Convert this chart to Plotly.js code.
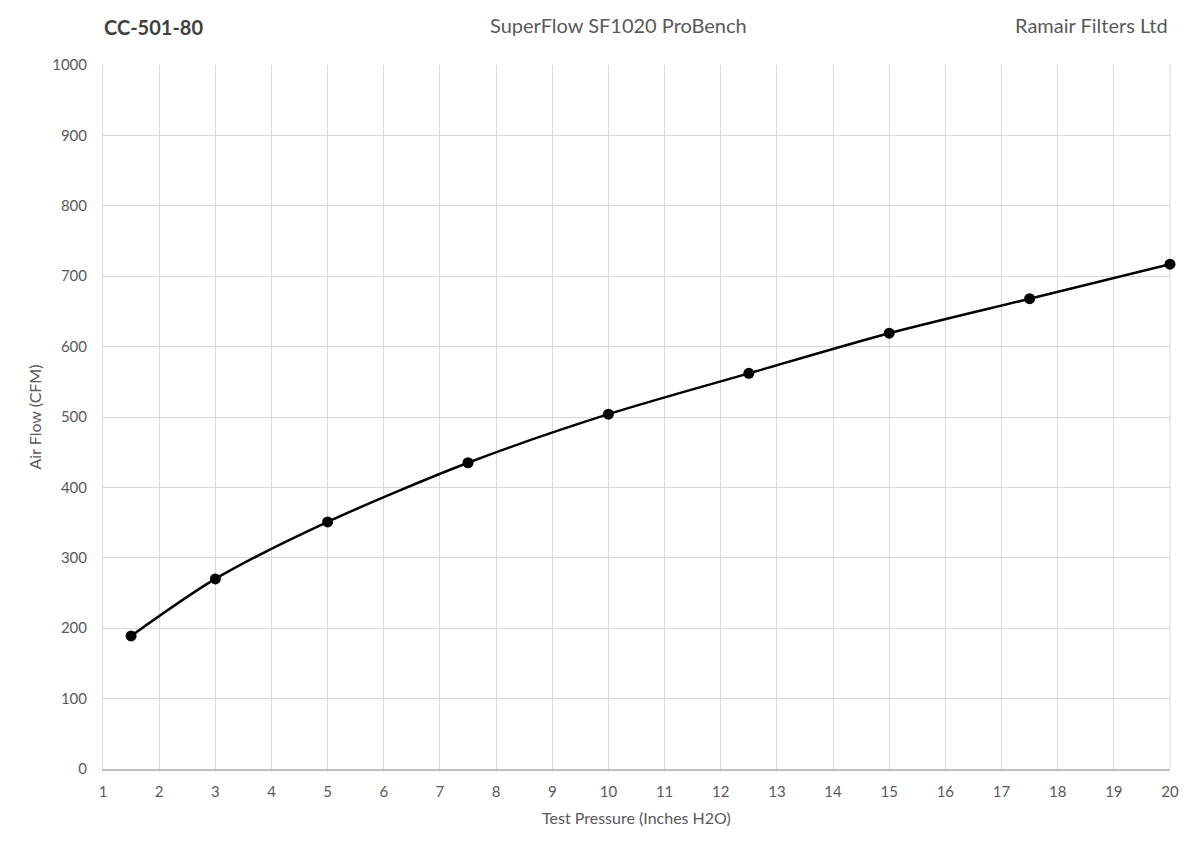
<!DOCTYPE html>
<html>
<head>
<meta charset="utf-8">
<script src="https://cdn.plot.ly/plotly-3.0.1.min.js"></script>
<style>
  html, body { margin: 0; padding: 0; background: #fff; }
  #chart { width: 1200px; height: 854px; }
</style>
</head>
<body>
<div id="chart"></div>
<script>
// test pressure (inches H2O) and measured air flow (CFM)
var pressure = [1.5, 3, 5, 7.5, 10, 12.5, 15, 17.5, 20];
var airflow = [189, 270, 351, 435, 504, 562, 619, 668, 717];

var xTicks = [1, 2, 3, 4, 5, 6, 7, 8, 9, 10, 11, 12, 13, 14, 15, 16, 17, 18, 19, 20];
var yTicks = [0, 100, 200, 300, 400, 500, 600, 700, 800, 900, 1000];

var fontFam = "Lato, 'Open Sans', sans-serif";
var textGrey = "#595959";

var data = [
    {
        type: "scatter",
        mode: "lines+markers",
        x: pressure,
        y: airflow,
        line: { color: "#000000", width: 2.5, shape: "spline", smoothing: 0.8 },
        marker: { color: "#000000", size: 11 },
        cliponaxis: false,
        showlegend: false,
        hoverinfo: "x+y"
    }
];

var layout = {
    width: 1200,
    height: 854,
    paper_bgcolor: "#ffffff",
    plot_bgcolor: "#ffffff",
    margin: { l: 103, r: 30, t: 65, b: 85 },
    font: { family: fontFam, color: textGrey, size: 15 },
    xaxis: {
        range: [1, 20],
        tickvals: xTicks,
        ticktext: xTicks.map(String),
        showgrid: true,
        gridcolor: "#d9d9d9",
        gridwidth: 1,
        zeroline: false,
        showline: true,
        linecolor: "#bfbfbf",
        linewidth: 1.5,
        ticks: "",
        ticklabelstandoff: 8,
        tickfont: { size: 15, color: textGrey },
        title: { text: "Test Pressure (Inches H2O)", font: { size: 16, color: textGrey }, standoff: 14 },
        mirror: false
    },
    yaxis: {
        range: [0, 1000],
        tickvals: yTicks,
        ticktext: yTicks.map(String),
        showgrid: true,
        gridcolor: "#d9d9d9",
        gridwidth: 1,
        zeroline: false,
        showline: true,
        linecolor: "#d9d9d9",
        linewidth: 1,
        ticks: "",
        ticklen: 0,
        ticklabelstandoff: 12,
        tickfont: { size: 15, color: textGrey },
        title: { text: "Air Flow (CFM)", font: { size: 16, color: textGrey }, standoff: 6 }
    },
    shapes: [
        // right border of the plot area
        { type: "line", xref: "paper", yref: "paper", x0: 1, x1: 1, y0: 0, y1: 1,
          layer: "below", line: { color: "#d9d9d9", width: 1 } }
    ],
    annotations: [
        { text: "<b>CC-501-80</b>", xref: "paper", yref: "paper", x: -0.001, y: 1.054,
          xanchor: "left", yanchor: "middle", showarrow: false,
          font: { size: 20, color: "#404040", family: fontFam } },
        { text: "SuperFlow SF1020 ProBench", xref: "paper", yref: "paper", x: 0.483, y: 1.057,
          xanchor: "center", yanchor: "middle", showarrow: false,
          font: { size: 20, color: textGrey, family: fontFam } },
        { text: "Ramair Filters Ltd", xref: "paper", yref: "paper", x: 1.0, y: 1.057,
          xanchor: "right", yanchor: "middle", showarrow: false,
          font: { size: 20, color: textGrey, family: fontFam } }
    ]
};

Plotly.newPlot("chart", data, layout, { displayModeBar: false, staticPlot: true });
</script>
</body>
</html>
